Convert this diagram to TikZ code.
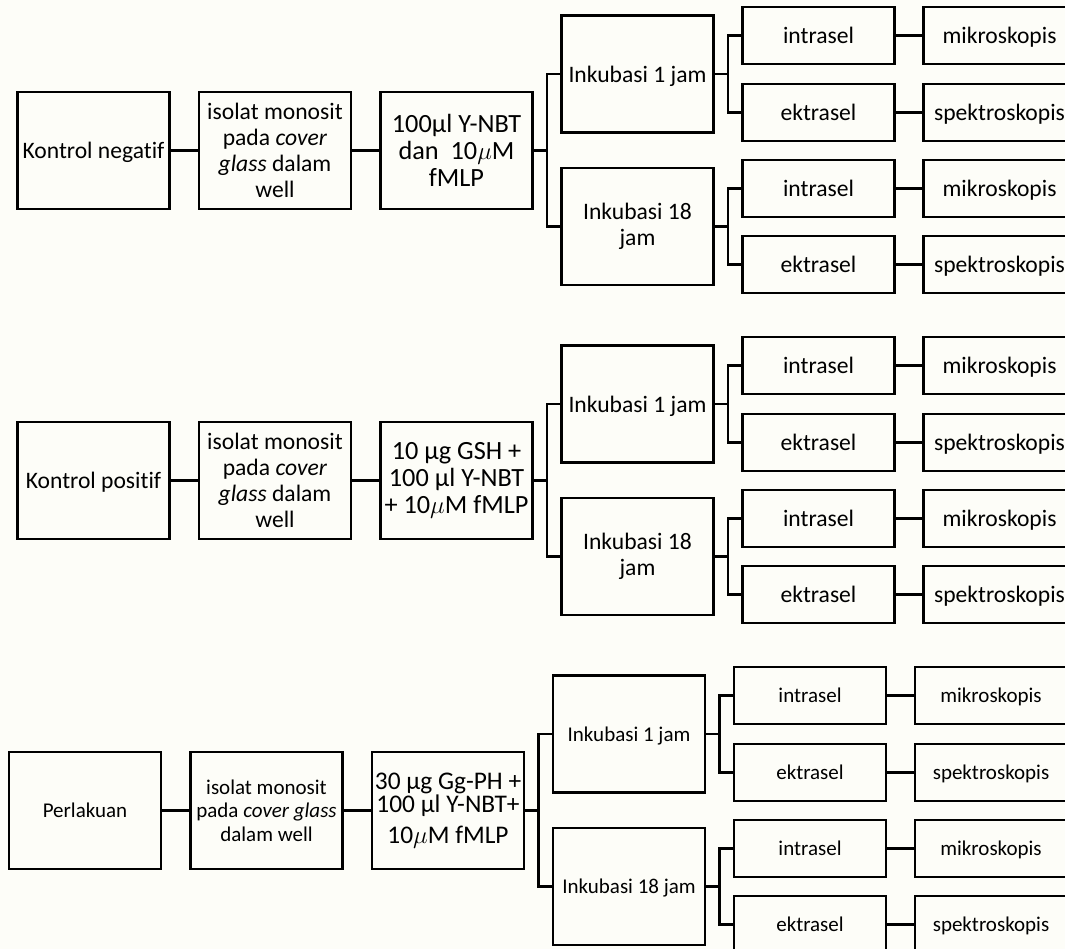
\documentclass[tikz,border=0pt]{standalone}
\usepackage{fontspec}
\setmainfont{Carlito}[Ligatures=NoCommon]
\definecolor{bg}{RGB}{253,253,248}
\tikzset{
  bx/.style={draw=black, line width=2.6pt, inner sep=0pt, align=center, minimum height=117pt, minimum width=152pt},
  sm/.style={draw=black, line width=2.6pt, inner sep=0pt, align=center, minimum width=152pt, minimum height=57pt},
  oneA/.style={text height=17.7pt, text depth=1.2pt},
  oneC/.style={text height=15.8pt, text depth=1.1pt},
  ln/.style={line width=2.6pt},
  fA/.style={font=\fontsize{23.6pt}{26pt}\selectfont},
  fB/.style={font=\fontsize{26.3pt}{27pt}\selectfont},
  fC/.style={font=\fontsize{21pt}{23.5pt}\selectfont},
  fD/.style={font=\fontsize{25.4pt}{23pt}\selectfont},
}
\newcommand{\flowrow}[9]{%
  \node[bx,#8,#2] (#1k) at (93.5,150.5) {#4};
  \node[bx,#2] (#1iso) at (275,150.5) {#5};
  \node[bx,#3] (#1rg) at (456.5,150.5) {#6};
  \node[bx,#8,#2] (#1ia) at (637.5,74) {Inkubasi 1 jam};
  \node[bx,#9,#2] (#1ib) at (637.5,226.5) {#7};
  \node[sm,#8,#2] (#1in1) at (818.5,35.5) {intrasel};
  \node[sm,#8,#2] (#1ek1) at (818.5,112.5) {ektrasel};
  \node[sm,#8,#2] (#1in2) at (818.5,188.5) {intrasel};
  \node[sm,#8,#2] (#1ek2) at (818.5,264.5) {ektrasel};
  \node[sm,#8,#2] (#1m1) at (999.5,35.5) {mikroskopis};
  \node[sm,#8,#2] (#1s1) at (999.5,112.5) {spektroskopis};
  \node[sm,#8,#2] (#1m2) at (999.5,188.5) {mikroskopis};
  \node[sm,#8,#2] (#1s2) at (999.5,264.5) {spektroskopis};
  \coordinate (#1j) at (547,150.5);
  \coordinate (#1ja) at (728,74);
  \coordinate (#1jb) at (728,226.5);
  \draw[ln] (#1k) -- (#1iso);
  \draw[ln] (#1iso) -- (#1rg);
  \draw[ln] (#1rg) -- (#1j);
  \draw[ln] (#1j) |- (#1ia);
  \draw[ln] (#1j) |- (#1ib);
  \draw[ln] (#1ia) -- (#1ja);
  \draw[ln] (#1ja) |- (#1in1);
  \draw[ln] (#1ja) |- (#1ek1);
  \draw[ln] (#1ib) -- (#1jb);
  \draw[ln] (#1jb) |- (#1in2);
  \draw[ln] (#1jb) |- (#1ek2);
  \draw[ln] (#1in1) -- (#1m1);
  \draw[ln] (#1ek1) -- (#1s1);
  \draw[ln] (#1in2) -- (#1m2);
  \draw[ln] (#1ek2) -- (#1s2);
}
\begin{document}
\begin{tikzpicture}[x=1pt,y=-1pt]
\useasboundingbox (0,0) rectangle (1065,949);
\fill[bg] (0,0) rectangle (1065,949);
\begin{scope}
\flowrow{a}{fA}{fB}{Kontrol negatif}{isolat monosit\\pada \textit{cover}\\\textit{glass} dalam\\well}{100µl Y-NBT\\dan\ \ 10$\mu$M\\fMLP}{Inkubasi 18\\jam}{oneA}{}
\end{scope}
\begin{scope}[shift={(0,330)}]
\flowrow{b}{fA}{fB}{Kontrol positif}{isolat monosit\\pada \textit{cover}\\\textit{glass} dalam\\well}{10 µg GSH +\\100 µl Y-NBT\\+ 10$\mu$M fMLP}{Inkubasi 18\\jam}{oneA}{}
\end{scope}
\begin{scope}[shift={(-8.5,660)}]
\flowrow{c}{fC}{fD}{Perlakuan}{isolat monosit\\pada \textit{cover glass}\\dalam well}{30 µg Gg-PH +\\100 µl Y-NBT+\\[8pt]10$\mu$M fMLP}{Inkubasi 18 jam}{oneC}{oneC}
\end{scope}
\end{tikzpicture}
\end{document}
